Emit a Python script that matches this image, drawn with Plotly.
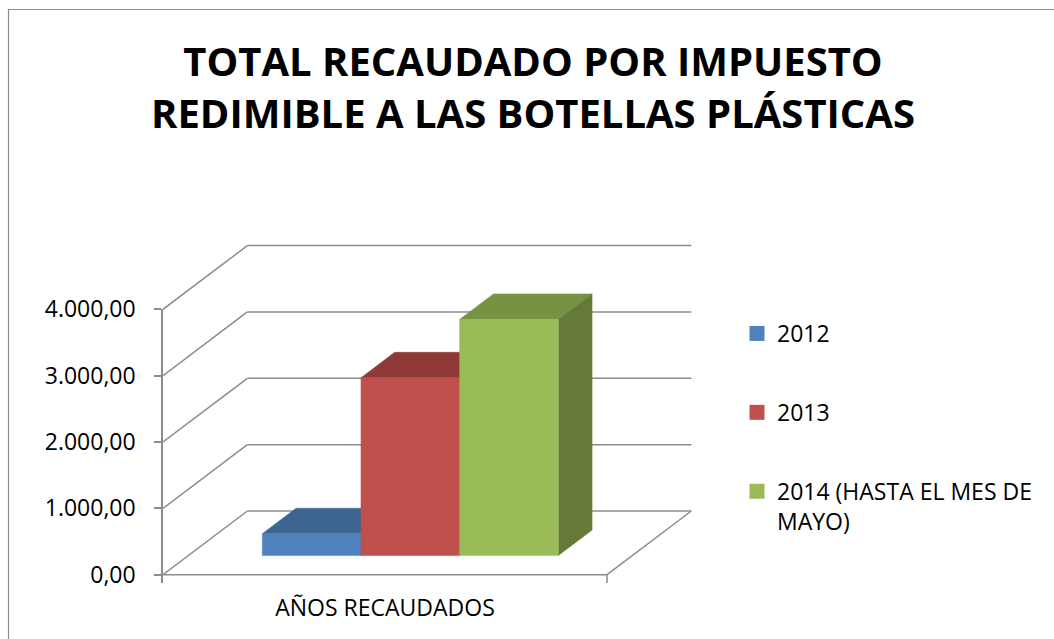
import plotly.graph_objects as go

# ---------------- data ----------------
series_names = ["2012", "2013", "2014 (HASTA EL MES DE<br>MAYO)"]
values = [330, 2680, 3560]
tick_values = [0, 1000, 2000, 3000, 4000]
category_label = ["AÑOS RECAUDADOS"]
title_text = "TOTAL RECAUDADO POR IMPUESTO<br>REDIMIBLE A LAS BOTELLAS PLÁSTICAS"

front_colors = ["#4F81BD", "#C0504D", "#9BBB59"]
top_colors = ["#3D6592", "#8F3A38", "#789244"]
side_colors = ["#3A5A82", "#7F3432", "#667A38"]

# ---------------- 3D layout constants ----------------
W, H = 1054, 639
ML, MR, MT, MB = 163, 354, 235, 56
PX_PER_X = 98.67          # pixels per bar width
GAP = 0.75                # gap on each side (gap width 150%)
N = len(values)
FLOOR_W = N + 2 * GAP
DEPTH_X = 0.855           # full depth in x units
DEPTH_Y = 960             # full depth in value units
BAR_DEPTH = 0.4
FRONT_GAP = 0.3
Y_MIN, Y_MAX = -125, 5120

GRID = "#8C8C8C"
FONT = "Open Sans"


def proj(x, v, d):
    return x + d * DEPTH_X, v + d * DEPTH_Y


fig = go.Figure()

# gridlines: back wall + left wall + floor
gx, gy = [], []
for v in tick_values:
    for (xa, va, da), (xb, vb, db) in [((0, v, 0), (0, v, 1)),
                                       ((0, v, 1), (FLOOR_W, v, 1))]:
        p, q = proj(xa, va, da), proj(xb, vb, db)
        gx += [p[0], q[0], None]
        gy += [p[1], q[1], None]
floor_edges = [((0, 0, 0), (FLOOR_W, 0, 0)),
               ((FLOOR_W, 0, 0), (FLOOR_W, 0, 1)),
               ((FLOOR_W, 0, 0), (FLOOR_W, Y_MIN, 0))]
for a, b in floor_edges:
    p, q = proj(*a), proj(*b)
    gx += [p[0], q[0], None]
    gy += [p[1], q[1], None]
fig.add_trace(go.Scatter(x=gx, y=gy, mode="lines", line=dict(color=GRID, width=1.5),
                         hoverinfo="skip", showlegend=False))

# bars
d0, d1 = FRONT_GAP, FRONT_GAP + BAR_DEPTH
for i, val in enumerate(values):
    x0 = GAP + i
    x1 = x0 + 1
    faces = [
        ([(x0, val, d0), (x1, val, d0), (x1, val, d1), (x0, val, d1)], top_colors[i]),
        ([(x1, 0, d0), (x1, 0, d1), (x1, val, d1), (x1, val, d0)], side_colors[i]),
        ([(x0, 0, d0), (x1, 0, d0), (x1, val, d0), (x0, val, d0)], front_colors[i]),
    ]
    for pts, col in faces:
        xy = [proj(*p) for p in pts]
        xs = [p[0] for p in xy] + [xy[0][0]]
        ys = [p[1] for p in xy] + [xy[0][1]]
        fig.add_trace(go.Scatter(x=xs, y=ys, mode="lines", fill="toself", fillcolor=col,
                                 line=dict(color=col, width=0.5), hoverinfo="skip",
                                 showlegend=False))

# legend entries
for i, name in enumerate(series_names):
    fig.add_trace(go.Scatter(x=[None], y=[None], mode="markers", name=name,
                             legendgroup=str(i),
                             marker=dict(symbol="square", size=15, color=front_colors[i])))

# dummy trace for the value axis
fig.add_trace(go.Scatter(x=[None], y=[None], yaxis="y2", showlegend=False, hoverinfo="skip"))

PW = W - ML - MR
PH = H - MT - MB
fig.update_layout(
    width=W, height=H,
    margin=dict(l=ML, r=MR, t=MT, b=MB, pad=0),
    paper_bgcolor="white", plot_bgcolor="rgba(0,0,0,0)",
    font=dict(family=FONT, size=23, color="black"),
    separators=",.",
    title=dict(text="<b>" + title_text + "</b>", x=533 / W, xanchor="center", xref="container",
               y=1 - 76 / H, yanchor="top", yref="container",
               font=dict(family=FONT, size=40, color="black")),
    xaxis=dict(range=[0, PW / PX_PER_X], showgrid=False, zeroline=False, showline=False,
               tickvals=[FLOOR_W / 2], ticktext=category_label, ticks="",
               ticklabelstandoff=9, tickfont=dict(size=23)),
    yaxis=dict(range=[Y_MIN, Y_MAX], visible=False),
    yaxis2=dict(range=[Y_MIN, tick_values[-1]], anchor="x", side="left",
                domain=[0, (tick_values[-1] - Y_MIN) / (Y_MAX - Y_MIN)],
                showgrid=False, zeroline=False, showline=True, linecolor=GRID, linewidth=1.5,
                ticks="outside", ticklen=7, tickcolor=GRID, tickwidth=1.5,
                tickvals=tick_values, tickformat=",.2f", ticklabelstandoff=14,
                tickfont=dict(size=23)),
    legend=dict(xref="container", yref="container", x=737 / W, y=1 - 312 / H,
                xanchor="left", yanchor="top", valign="top", tracegroupgap=46,
                font=dict(size=23), bgcolor="rgba(0,0,0,0)"),
    shapes=[dict(type="rect", xref="paper", yref="paper",
                 x0=(8.5 - ML) / PW, x1=(W + 10 - ML) / PW,
                 y0=(H - MB - (H + 10)) / PH, y1=(H - MB - 9.5) / PH,
                 line=dict(color="#8C8C8C", width=1.2), layer="below")],
)

fig.write_html("out.html")
